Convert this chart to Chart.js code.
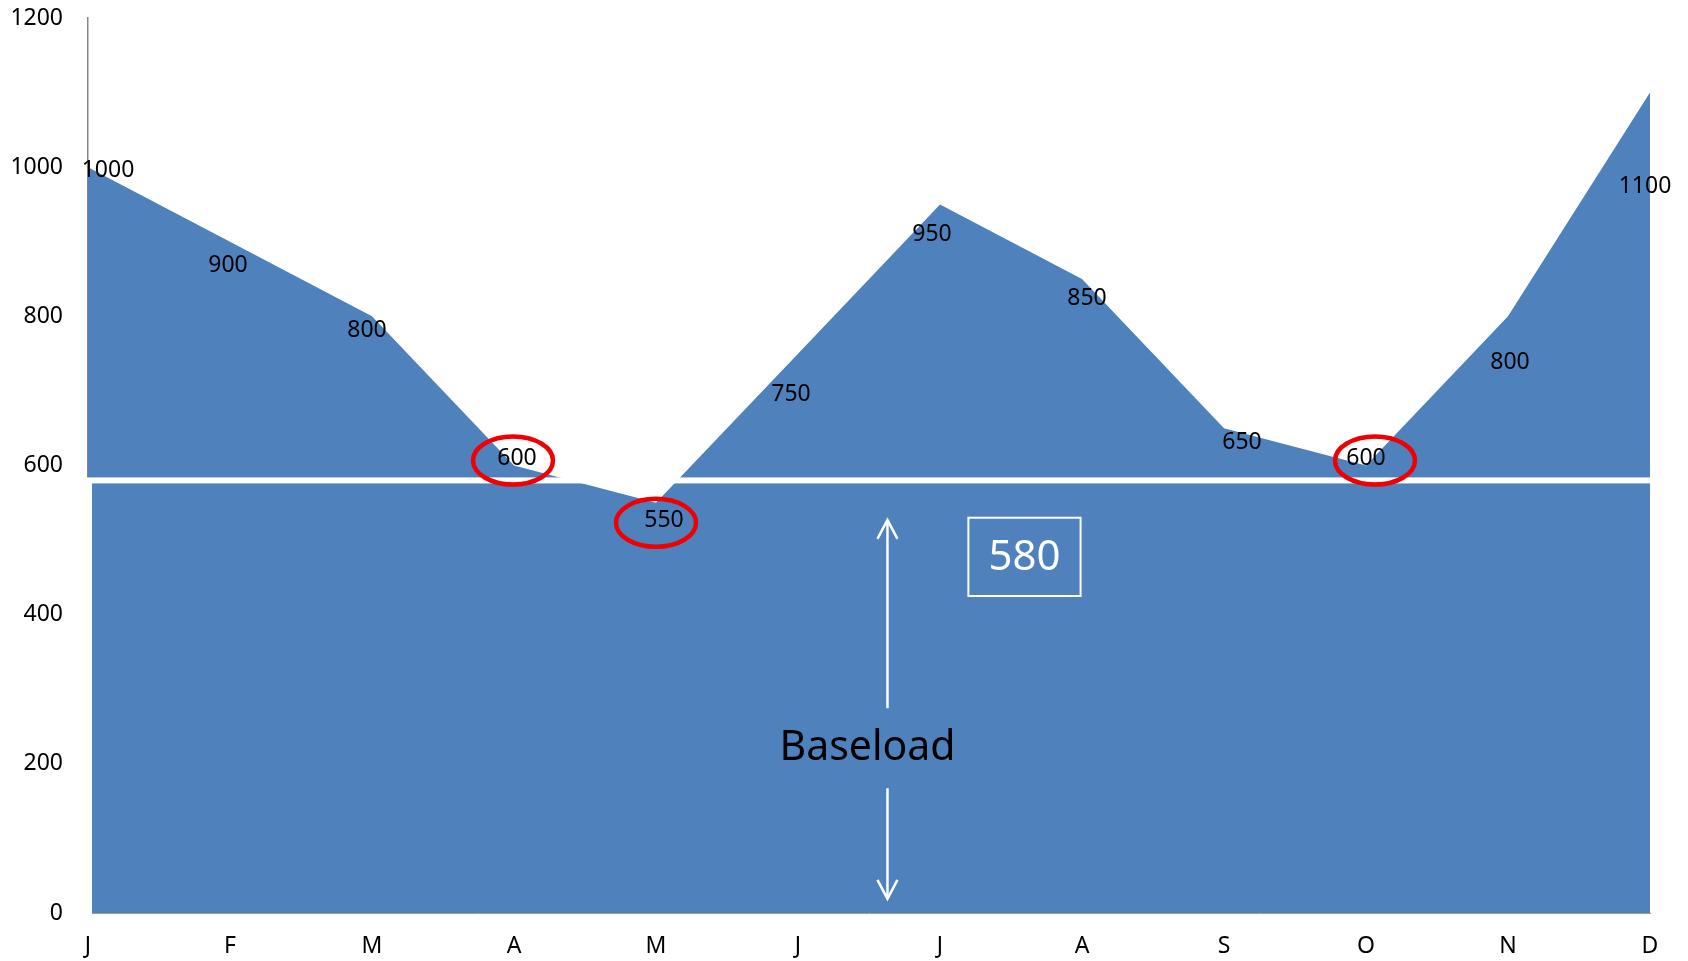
<!DOCTYPE html>
<html>
<head>
<meta charset="utf-8">
<script src="https://cdn.jsdelivr.net/npm/chart.js@4/dist/chart.umd.min.js"></script>
<style>
  html, body { margin: 0; padding: 0; background: #fff; }
  canvas { display: block; }
</style>
</head>
<body>
<canvas id="loadChart" width="1688" height="961"></canvas>
<script>
// Monthly demand and the flat baseload under it
const months = ['J', 'F', 'M', 'A', 'M', 'J', 'J', 'A', 'S', 'O', 'N', 'D'];
const demand = [1000, 900, 800, 600, 550, 750, 950, 850, 650, 600, 800, 1100];
const baseload = 580;
const circled = [3, 4, 9];   // months that sit closest to the baseload

// Where each value label sits relative to its point (px)
const labelNudge = [[20, 3], [-2, 24], [-5, 14], [3, -7], [8, 18], [-7, 41],
                    [-8, 30], [5, 19], [18, 14], [0, -7], [2, 46], [-5, 94]];
// horizontal shift of each ring from its label (px)
const ringShift = [-4, -8, 9];

const FONT = "'Noto Sans', 'DejaVu Sans', sans-serif";
const BLUE = '#4F81BD';

function arrowHead(ctx, x, y, dir) {
    ctx.beginPath();
    ctx.moveTo(x - 10, y + dir * 19);
    ctx.lineTo(x, y);
    ctx.lineTo(x + 10, y + dir * 19);
    ctx.stroke();
}

const baseloadPlugin = {
    id: 'baseload',
    afterDatasetsDraw(chart) {
        const { ctx, chartArea: a, scales: { x, y } } = chart;
        const yb = y.getPixelForValue(baseload);
        ctx.save();

        // white cut at the baseload level
        ctx.fillStyle = '#fff';
        ctx.fillRect(a.left - 2, yb - 3, a.right - a.left + 4, 6);
        ctx.fillRect(a.left - 2, yb, 6, a.bottom - yb + 1);

        // double arrow with the "Baseload" caption in the gap
        const ax = x.getPixelForValue(5.63);
        const top = y.getPixelForValue(527);
        const bot = y.getPixelForValue(19);
        const ty = y.getPixelForValue(221);
        ctx.strokeStyle = '#fff';
        ctx.lineWidth = 2.5;
        ctx.beginPath();
        ctx.moveTo(ax, top); ctx.lineTo(ax, ty - 40);
        ctx.moveTo(ax, ty + 40); ctx.lineTo(ax, bot);
        ctx.stroke();
        arrowHead(ctx, ax, top, 1);
        arrowHead(ctx, ax, bot, -1);

        ctx.fillStyle = '#000';
        ctx.font = '41px ' + FONT;
        ctx.textAlign = 'center';
        ctx.textBaseline = 'middle';
        ctx.fillText('Baseload', x.getPixelForValue(5.49), ty);

        // boxed baseload value
        const bx0 = x.getPixelForValue(6.2), bx1 = x.getPixelForValue(6.99);
        const by0 = y.getPixelForValue(530), by1 = y.getPixelForValue(425);
        ctx.lineWidth = 2;
        ctx.strokeRect(bx0, by0, bx1 - bx0, by1 - by0);
        ctx.fillStyle = '#fff';
        ctx.font = '42px ' + FONT;
        ctx.fillText(String(baseload), (bx0 + bx1) / 2, (by0 + by1) / 2 + 1);

        // value labels
        const pts = chart.getDatasetMeta(0).data;
        ctx.fillStyle = '#000';
        ctx.font = '23px ' + FONT;
        pts.forEach((p, i) => {
            const [dx, dy] = labelNudge[i];
            ctx.fillText(String(demand[i]), p.x + dx, p.y + dy);
        });

        // red rings round the low months
        ctx.strokeStyle = '#F00000';
        ctx.lineWidth = 4.5;
        circled.forEach((i, k) => {
            const [dx, dy] = labelNudge[i];
            ctx.beginPath();
            ctx.ellipse(pts[i].x + dx + ringShift[k], pts[i].y + dy + 2, 40, 24, 0, 0, Math.PI * 2);
            ctx.stroke();
        });

        ctx.restore();
    }
};

new Chart(document.getElementById('loadChart'), {
    type: 'line',
    data: {
        labels: months,
        datasets: [{
            data: demand,
            fill: 'origin',
            backgroundColor: BLUE,
            borderColor: BLUE,
            borderWidth: 0,
            pointRadius: 0,
            tension: 0
        }]
    },
    options: {
        responsive: false,
        animation: false,
        layout: { padding: { left: 11, top: 18, right: 38, bottom: 0 } },
        plugins: {
            legend: { display: false },
            tooltip: { enabled: false }
        },
        scales: {
            x: {
                offset: false,
                grid: { display: false, drawTicks: false },
                border: { display: true, color: '#9a9a9a', width: 1 },
                ticks: { color: '#000', padding: 20, font: { family: FONT, size: 23 } },
                afterFit(scale) { scale.height = 48; }
            },
            y: {
                min: 0,
                max: 1200,
                grid: { display: false, drawTicks: false },
                border: { display: true, color: '#868686', width: 1.5 },
                ticks: {
                    stepSize: 200,
                    color: '#000',
                    padding: 25,
                    font: { family: FONT, size: 23 },
                    callback: v => String(v)
                },
                afterFit(scale) {
                    scale.width = 77;
                    scale.paddingTop = 0;
                    scale.paddingBottom = 0;
                }
            }
        }
    },
    plugins: [baseloadPlugin]
});
</script>
</body>
</html>
